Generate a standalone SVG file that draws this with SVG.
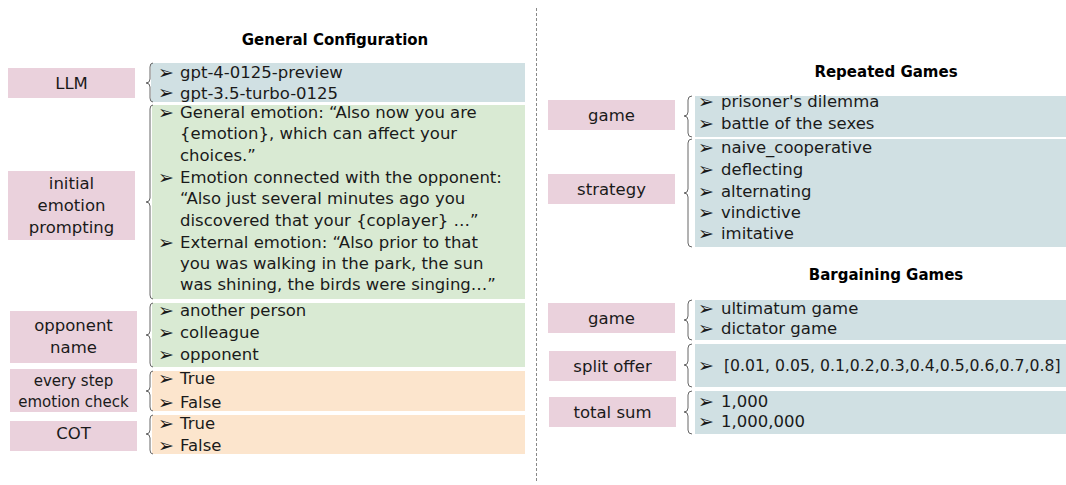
<svg xmlns="http://www.w3.org/2000/svg" width="1066" height="485" viewBox="0 0 1066 485">
<style>
text{font-family:"DejaVu Sans","Liberation Sans",sans-serif;fill:#1a1a1a}
.t{font-size:15px;font-weight:bold;text-anchor:middle;fill:#000}
.l{font-size:16.5px;text-anchor:middle}
.s{font-size:15px;text-anchor:middle}
.i{font-size:16.5px}
.a{font-size:19px}
.pink{fill:#ead1dc}
.blue{fill:#d0e0e3}
.green{fill:#d9ead3}
.orange{fill:#fce5cd}
.br{fill:none;stroke:#666;stroke-width:1}
.div{stroke:#888;stroke-width:1;stroke-dasharray:3 2}
</style>
<line class="div" x1="536.5" y1="8" x2="536.5" y2="482"/>
<text class="t" x="335" y="45">General Configuration</text>
<text class="t" x="886" y="77">Repeated Games</text>
<text class="t" x="886" y="280">Bargaining Games</text>

<g id="llm">
<rect class="pink" x="8" y="68" width="127" height="30"/>
<text class="l" x="71.5" y="89">LLM</text>
<rect class="blue" x="151" y="63" width="374" height="39"/>
<text class="a" x="158" y="78.5">➢</text><text class="i" x="180" y="78">gpt-4-0125-preview</text>
<text class="a" x="158" y="99">➢</text><text class="i" x="180" y="98.5">gpt-3.5-turbo-0125</text>
</g>

<g id="initial-emotion">
<rect class="pink" x="8" y="171" width="127" height="69"/>
<text class="l" x="71.5" y="189">initial</text>
<text class="l" x="71.5" y="211">emotion</text>
<text class="l" x="71.5" y="233">prompting</text>
<rect class="green" x="152" y="105" width="373" height="194"/>
<text class="a" x="158" y="119">➢</text><text class="i" x="180" y="118">General emotion: “Also now you are</text>
<text class="i" x="180" y="139">{emotion}, which can affect your</text>
<text class="i" x="180" y="161">choices.”</text>
<text class="a" x="158" y="184">➢</text><text class="i" x="180" y="183">Emotion connected with the opponent:</text>
<text class="i" x="180" y="204">“Also just several minutes ago you</text>
<text class="i" x="180" y="226">discovered that your {coplayer} …”</text>
<text class="a" x="158" y="249">➢</text><text class="i" x="180" y="248">External emotion: “Also prior to that</text>
<text class="i" x="180" y="269">you was walking in the park, the sun</text>
<text class="i" x="180" y="290">was shining, the birds were singing…”</text>
</g>

<g id="opponent-name">
<rect class="pink" x="10" y="311" width="127" height="52"/>
<text class="l" x="73.5" y="331">opponent</text>
<text class="l" x="73.5" y="353">name</text>
<rect class="green" x="152" y="303" width="373" height="64"/>
<text class="a" x="158" y="317">➢</text><text class="i" x="180" y="316">another person</text>
<text class="a" x="158" y="339">➢</text><text class="i" x="180" y="338">colleague</text>
<text class="a" x="158" y="361">➢</text><text class="i" x="180" y="360">opponent</text>
</g>

<g id="emotion-check">
<rect class="pink" x="10" y="369" width="127" height="43"/>
<text class="s" x="73.5" y="386">every step</text>
<text class="s" x="73.5" y="407">emotion check</text>
<rect class="orange" x="152" y="371" width="373" height="40"/>
<text class="a" x="158" y="385">➢</text><text class="i" x="180" y="384">True</text>
<text class="a" x="158" y="409">➢</text><text class="i" x="180" y="408">False</text>
</g>

<g id="cot">
<rect class="pink" x="10" y="421" width="127" height="30"/>
<text class="l" x="73.5" y="439">COT</text>
<rect class="orange" x="152" y="415" width="373" height="39"/>
<text class="a" x="158" y="430">➢</text><text class="i" x="180" y="429">True</text>
<text class="a" x="158" y="452">➢</text><text class="i" x="180" y="451">False</text>
</g>

<g id="repeated-game">
<rect class="pink" x="548" y="100" width="127" height="30"/>
<text class="l" x="611.5" y="121">game</text>
<rect class="blue" x="695" y="96" width="371" height="41"/>
<text class="a" x="698" y="108">➢</text><text class="i" x="721" y="107">prisoner's dilemma</text>
<text class="a" x="698" y="130">➢</text><text class="i" x="721" y="129">battle of the sexes</text>
</g>

<g id="strategy">
<rect class="pink" x="548" y="174" width="127" height="30"/>
<text class="l" x="611.5" y="195">strategy</text>
<rect class="blue" x="695" y="139" width="371" height="108"/>
<text class="a" x="698" y="154">➢</text><text class="i" x="721" y="153">naive_cooperative</text>
<text class="a" x="698" y="176">➢</text><text class="i" x="721" y="175">deflecting</text>
<text class="a" x="698" y="198">➢</text><text class="i" x="721" y="197">alternating</text>
<text class="a" x="698" y="219">➢</text><text class="i" x="721" y="218">vindictive</text>
<text class="a" x="698" y="240">➢</text><text class="i" x="721" y="239">imitative</text>
</g>

<g id="bargaining-game">
<rect class="pink" x="548" y="303" width="127" height="30"/>
<text class="l" x="611.5" y="324">game</text>
<rect class="blue" x="695" y="300" width="371" height="40"/>
<text class="a" x="698" y="315">➢</text><text class="i" x="721" y="314">ultimatum game</text>
<text class="a" x="698" y="335">➢</text><text class="i" x="721" y="334">dictator game</text>
</g>

<g id="split-offer">
<rect class="pink" x="549" y="351" width="127" height="30"/>
<text class="l" x="612.5" y="372">split offer</text>
<rect class="blue" x="695" y="344" width="371" height="43"/>
<text class="a" x="698" y="372">➢</text><text class="i" x="724" y="371" style="font-size:15.7px">[0.01, 0.05, 0.1,0.2,0.3,0.4,0.5,0.6,0.7,0.8]</text>
</g>

<g id="total-sum">
<rect class="pink" x="549" y="397" width="127" height="30"/>
<text class="l" x="612.5" y="418">total sum</text>
<rect class="blue" x="695" y="391" width="371" height="43"/>
<text class="a" x="698" y="408">➢</text><text class="i" x="721" y="407">1,000</text>
<text class="a" x="698" y="428">➢</text><text class="i" x="721" y="427">1,000,000</text>
</g>

<g id="connectors">
<path class="br" d="M153 63 Q150 63 150 67 L150 79 Q150 83 146 83 Q150 83 150 87 L150 98 Q150 102 153 102"/>
<path class="br" d="M153 105 Q150 105 150 109 L150 198 Q150 202 146 202 Q150 202 150 206 L150 295 Q150 299 153 299"/>
<path class="br" d="M153 303 Q150 303 150 307 L150 331 Q150 335 146 335 Q150 335 150 339 L150 363 Q150 367 153 367"/>
<path class="br" d="M153 371 Q150 371 150 375 L150 387 Q150 391 146 391 Q150 391 150 395 L150 407 Q150 411 153 411"/>
<path class="br" d="M153 415 Q150 415 150 419 L150 430 Q150 434 146 434 Q150 434 150 438 L150 450 Q150 454 153 454"/>
<path class="br" d="M692 96 Q688 96 688 100 L688 112 Q688 116 684 116 Q688 116 688 120 L688 133 Q688 137 692 137"/>
<path class="br" d="M692 139 Q688 139 688 143 L688 189 Q688 193 684 193 Q688 193 688 197 L688 243 Q688 247 692 247"/>
<path class="br" d="M692 300 Q688 300 688 304 L688 316 Q688 320 684 320 Q688 320 688 324 L688 336 Q688 340 692 340"/>
<path class="br" d="M692 344 Q688 344 688 348 L688 361 Q688 365 684 365 Q688 365 688 369 L688 383 Q688 387 692 387"/>
<path class="br" d="M692 391 Q688 391 688 395 L688 408 Q688 412 684 412 Q688 412 688 416 L688 430 Q688 434 692 434"/>
</g>
</svg>
